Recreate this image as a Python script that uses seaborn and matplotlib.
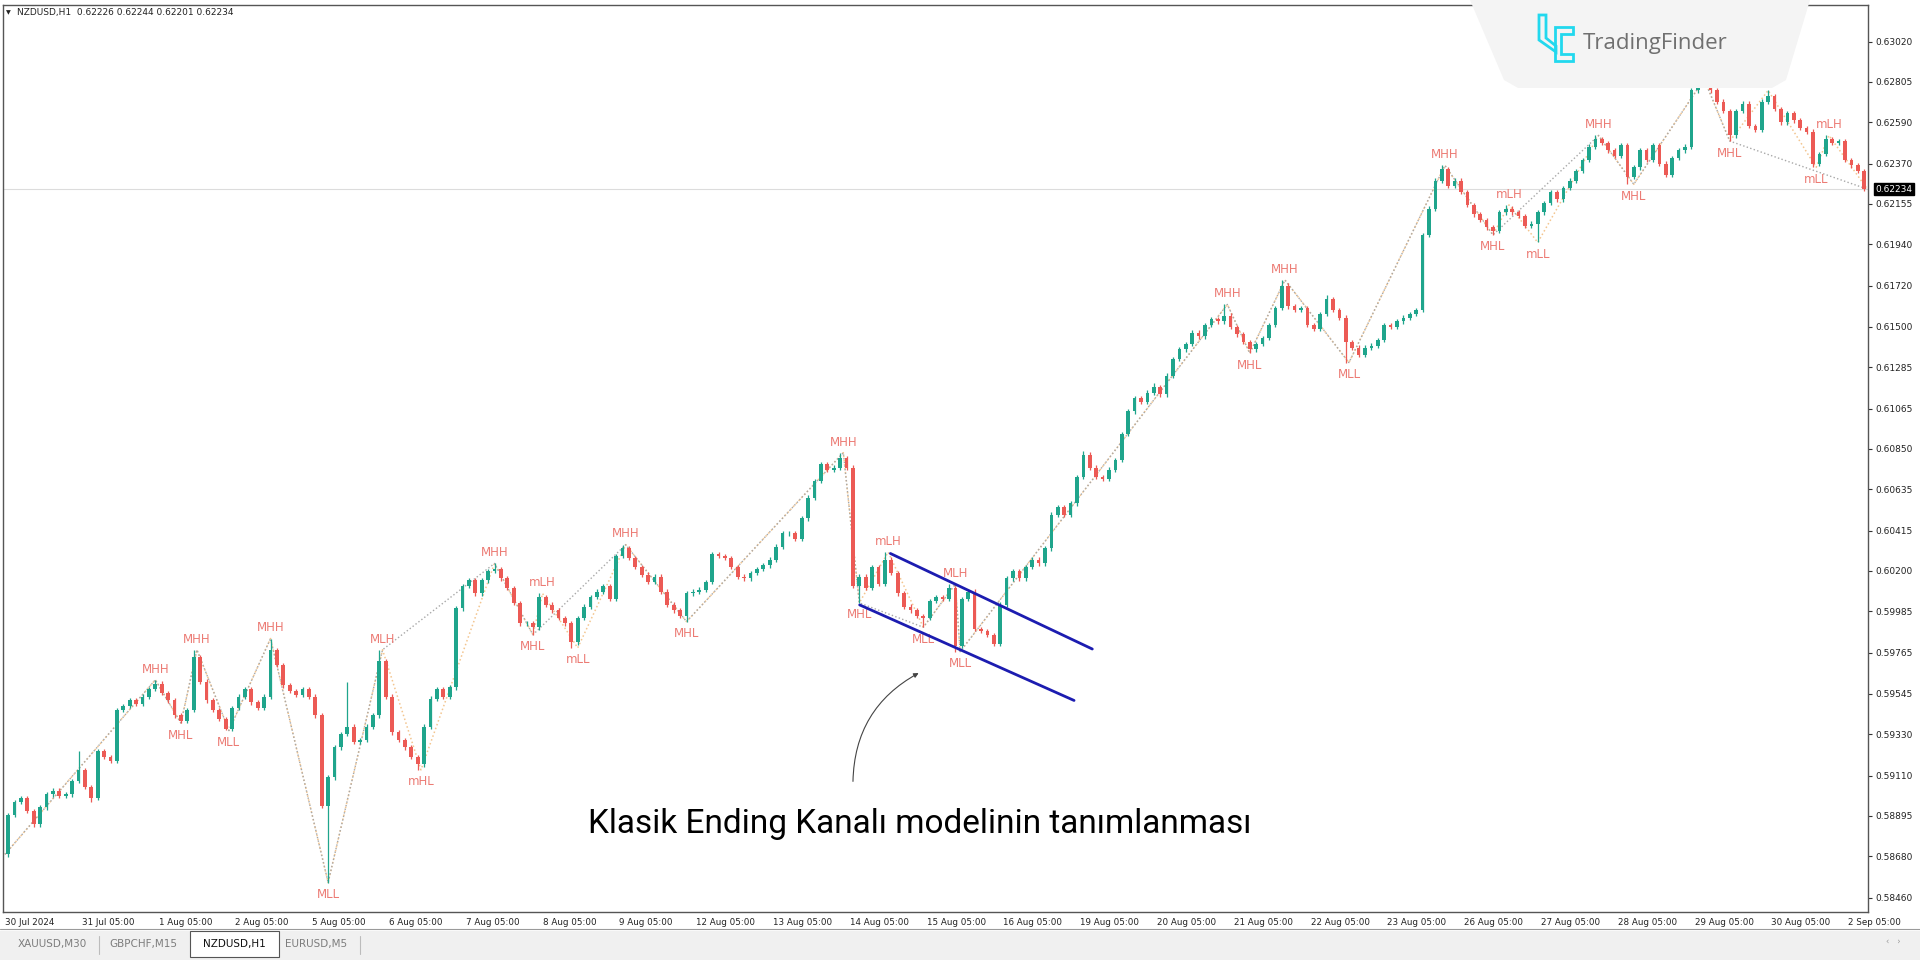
import matplotlib
matplotlib.use("Agg")
import matplotlib.pyplot as plt
import matplotlib.transforms as mtransforms
from matplotlib.patches import Polygon, Rectangle
import numpy as np
import pandas as pd
import seaborn as sns

sns.set_style("white")
plt.rcParams['font.family'] = ['DejaVu Sans']

# NZDUSD, 2-hour steps (prices in points, 1e-5)
open_first = 58690
closes = [
    58900, 58970, 58990, 58920, 58850, 58940, 59010, 59030, 59000, 59010, 59080, 59140,
    59050, 58990, 59240, 59210, 59190, 59460, 59480, 59510, 59490, 59530, 59570, 59600,
    59550, 59510, 59430, 59400, 59460, 59740, 59610, 59510, 59460, 59410, 59360, 59470,
    59530, 59570, 59500, 59470, 59530, 59780, 59700, 59590, 59560, 59540, 59570, 59530,
    59430, 58950, 59100, 59260, 59330, 59370, 59290, 59300, 59370, 59430, 59720, 59530,
    59340, 59300, 59260, 59210, 59170, 59370, 59520, 59570, 59530, 59580, 60000, 60120,
    60150, 60080, 60150, 60200, 60210, 60160, 60110, 60030, 59920, 59920, 59900, 60060,
    60020, 59990, 59950, 59920, 59820, 59950, 60010, 60060, 60090, 60120, 60050, 60280,
    60320, 60270, 60220, 60180, 60140, 60170, 60090, 60020, 59990, 59960, 60080, 60090,
    60100, 60140, 60290, 60280, 60270, 60220, 60170, 60160, 60190, 60210, 60230, 60260,
    60330, 60400, 60400, 60370, 60480, 60590, 60680, 60770, 60740, 60750, 60800, 60750,
    60120, 60170, 60110, 60220, 60130, 60260, 60190, 60080, 60010, 59990, 59960, 59950,
    60040, 60060, 60050, 60110, 59800, 60050, 60090, 59890, 59880, 59860, 59810, 60020,
    60160, 60200, 60160, 60220, 60260, 60240, 60320, 60500, 60540, 60500, 60560, 60700,
    60820, 60750, 60700, 60690, 60740, 60790, 60930, 61050, 61120, 61100, 61150, 61180,
    61140, 61240, 61330, 61380, 61410, 61470, 61450, 61510, 61540, 61530, 61560, 61500,
    61460, 61420, 61380, 61410, 61440, 61510, 61600, 61720, 61610, 61590, 61600, 61510,
    61490, 61570, 61650, 61590, 61550, 61420, 61390, 61350, 61390, 61400, 61430, 61510,
    61500, 61530, 61550, 61570, 61590, 61990, 62130, 62280, 62340, 62250, 62280, 62220,
    62150, 62100, 62070, 62030, 62010, 62110, 62130, 62110, 62090, 62040, 62050, 62110,
    62160, 62220, 62180, 62240, 62280, 62330, 62390, 62460, 62500, 62480, 62440, 62410,
    62470, 62300, 62350, 62440, 62390, 62470, 62370, 62310, 62400, 62440, 62460, 62760,
    62790, 62790, 62760, 62700, 62650, 62520, 62650, 62690, 62570, 62550, 62700, 62730,
    62660, 62590, 62640, 62600, 62560, 62540, 62370, 62420, 62500, 62480, 62490, 62390,
    62360, 62330, 62234,
]
# bars with long wicks (bar index -> extreme)
wick_high = {11: 59240, 23: 59620, 29: 59780, 41: 59840, 53: 59610, 58: 59780, 76: 60240,
             83: 60080, 96: 60340, 130: 60830, 137: 60300, 147: 60130, 168: 60840,
             179: 61200, 190: 61620, 199: 61750, 206: 61670, 224: 62360, 234: 62150,
             248: 62520, 264: 62820, 275: 62760, 284: 62520}
wick_low = {13: 58970, 27: 59390, 34: 59350, 50: 58540, 64: 59140, 82: 59860, 88: 59790,
            106: 59930, 133: 60030, 143: 59900, 148: 59770, 194: 61360, 209: 61310,
            232: 61990, 239: 61950, 253: 62260, 269: 62490, 282: 62350}

# swing labels (hour index, price, text)
piv_hour = [47, 55, 60, 70, 83, 101, 118, 130, 153, 165, 168, 179, 194, 213, 262, 267,
            276, 287, 297, 298.5, 382, 389, 400, 420, 450, 465, 470, 479, 498, 509, 531,
            539, 551, 566, 570]
piv_price = [59620, 59390, 59780, 59350, 59840, 58540, 59780, 59140, 60240, 59860, 60080,
             59790, 60340, 59930, 60830, 60030, 60300, 59900, 60130, 59770, 61620, 61360,
             61750, 61310, 62360, 61990, 62150, 61950, 62520, 62260, 62820, 62490, 62760,
             62350, 62520]
piv_text = ['MHH', 'MHL', 'MHH', 'MLL', 'MHH', 'MLL', 'MLH', 'mHL', 'MHH', 'MHL', 'mLH',
            'mLL', 'MHH', 'MHL', 'MHH', 'MHL', 'mLH', 'MLL', 'MLH', 'MLL', 'MHH', 'MHL',
            'MHH', 'MLL', 'MHH', 'MHL', 'mLH', 'mLL', 'MHH', 'MHL', 'MHH', 'MHL', 'mLH',
            'mLL', 'mLH']

price_ticks = [0.63020, 0.62805, 0.62590, 0.62370, 0.62155, 0.61940, 0.61720, 0.61500,
               0.61285, 0.61065, 0.60850, 0.60635, 0.60415, 0.60200, 0.59985, 0.59765,
               0.59545, 0.59330, 0.59110, 0.58895, 0.58680, 0.58460]
day_labels = ['30 Jul 2024', '31 Jul 05:00', '1 Aug 05:00', '2 Aug 05:00', '5 Aug 05:00',
              '6 Aug 05:00', '7 Aug 05:00', '8 Aug 05:00', '9 Aug 05:00', '12 Aug 05:00',
              '13 Aug 05:00', '14 Aug 05:00', '15 Aug 05:00', '16 Aug 05:00', '19 Aug 05:00',
              '20 Aug 05:00', '21 Aug 05:00', '22 Aug 05:00', '23 Aug 05:00', '26 Aug 05:00',
              '27 Aug 05:00', '28 Aug 05:00', '29 Aug 05:00', '30 Aug 05:00', '2 Sep 05:00']
chan_up_x, chan_up_y = [276.7, 339.8], [0.60293, 0.59784]
chan_lo_x, chan_lo_y = [267.1, 334.1], [0.60019, 0.59510]
last_price = 0.62234
tabs = ['XAUUSD,M30', 'GBPCHF,M15', 'NZDUSD,H1', 'EURUSD,M5']
caption = "Klasik Ending Kanalı modelinin tanımlanması"

# build OHLC frame
df = pd.DataFrame({'close': closes})
df['open'] = df['close'].shift(1).fillna(open_first)
df['x'] = np.arange(len(df)) * 2 + 1
df['high'] = df[['open', 'close']].max(axis=1) + 12
df['low'] = df[['open', 'close']].min(axis=1) - 12
for k, v in wick_high.items():
    df.loc[k, 'high'] = v
for k, v in wick_low.items():
    df.loc[k, 'low'] = v
for c in ['open', 'close', 'high', 'low']:
    df[c] = df[c] / 1e5
bull, bear = '#1fa58c', '#ec5a55'
df['color'] = np.where(df['close'] >= df['open'], bull, bear)

fig = plt.figure(figsize=(19.2, 9.6), dpi=100)
ax = fig.add_axes([3 / 1920, 48 / 960, 1865 / 1920, 907 / 960])
ax.set_xlim(-0.6, 582.2)
ax.set_ylim(0.58383, 0.63215)

ax.axhline(last_price, color='#dcdcdc', lw=0.8, zorder=0)

# zigzag guides
zz = pd.DataFrame({'h': [0] + piv_hour + [582],
                   'p': [open_first / 1e5] + [p / 1e5 for p in piv_price] + [last_price]})
sns.lineplot(data=zz, x='h', y='p', ax=ax, sort=False, estimator=None,
             color='#f3c58f', lw=1.1, linestyle=':', zorder=1)
major = zz[[True] + [t.startswith('M') for t in piv_text] + [True]]
sns.lineplot(data=major, x='h', y='p', ax=ax, sort=False, estimator=None,
             color='#a8a8a8', lw=1.0, linestyle=':', zorder=1)

# candles
ax.vlines(df['x'], df['low'], df['high'], colors=df['color'], lw=0.9, zorder=2)
body_lo = df[['open', 'close']].min(axis=1)
body_h = (df['close'] - df['open']).abs().clip(lower=0.00003)
ax.bar(df['x'], body_h, bottom=body_lo, width=1.15, color=df['color'], lw=0, zorder=3)

# swing labels
for h, p, t in zip(piv_hour, piv_price, piv_text):
    top = t.endswith('H')
    ax.annotate(t, (h, p / 1e5), xytext=(0, 3 if top else -4), textcoords='offset points',
                ha='center', va='bottom' if top else 'top', color='#ec7b74', fontsize=8.5,
                zorder=4)

# ending channel
sns.lineplot(x=chan_up_x, y=chan_up_y, ax=ax, color='#1c1cb0', lw=2.0, zorder=5)
sns.lineplot(x=chan_lo_x, y=chan_lo_y, ax=ax, color='#1c1cb0', lw=2.0, zorder=5)

ax.annotate('', xy=(286.3, 0.59663), xytext=(265.0, 0.59064),
            arrowprops=dict(arrowstyle='-|>', color='#444444', lw=0.8,
                            connectionstyle='arc3,rad=-0.3', mutation_scale=7))

# axes styling
ax.set_xlabel('')
ax.set_ylabel('')
ax.yaxis.tick_right()
ax.set_yticks(price_ticks)
ax.set_yticklabels([f"{v:.5f}" for v in price_ticks])
ax.set_xticks([24 * d for d in range(len(day_labels))])
ax.set_xticklabels(day_labels)
for lab in ax.get_xticklabels():
    lab.set_ha('left')
ax.tick_params(axis='y', direction='out', length=3, labelsize=6.5, pad=2,
               colors='#333333', labelcolor='#222222')
ax.tick_params(axis='x', direction='inout', length=5, labelsize=6.3, pad=2,
               colors='#333333', labelcolor='#222222')
for s in ax.spines.values():
    s.set_color('#555555')
    s.set_linewidth(1.0)

trans = mtransforms.blended_transform_factory(ax.transAxes, ax.transData)
ax.text(1.004, last_price, "0.62234", transform=trans, color='white', fontsize=6.5,
        va='center', ha='left', zorder=6,
        bbox=dict(boxstyle='square,pad=0.15', fc='black', ec='black'))

# overlay for window chrome, logo and caption
deco = fig.add_axes([0, 0, 1, 1], zorder=5)
deco.set_xlim(0, 1920)
deco.set_ylim(960, 0)
deco.axis('off')
deco.patch.set_alpha(0)

deco.text(6, 13, "▼", fontsize=4.5, va='center', ha='left', color='#222222')
deco.text(17, 13, "NZDUSD,H1  0.62226 0.62244 0.62201 0.62234", fontsize=6.5,
          va='center', ha='left', color='#222222')

deco.add_patch(Polygon([(1470, 0), (1810, 0), (1786, 80), (1772, 88), (1518, 88), (1504, 80)],
                       closed=True, fc='#f4f4f4', ec='none'))
cyan = '#22d8ee'
deco.add_patch(Polygon([(1539, 15), (1546, 15), (1546, 38), (1556, 46), (1556, 52), (1539, 40)],
                       closed=True, fc='none', ec=cyan, lw=2))
deco.add_patch(Polygon([(1555, 27), (1573, 27), (1573, 34), (1561, 34), (1561, 54), (1573, 54),
                        (1573, 61), (1555, 61)], closed=True, fc='none', ec=cyan, lw=2))
deco.text(1583, 43, "TradingFinder", fontsize=16, family='Open Sans', color='#707070',
          va='center', ha='left')

deco.text(920, 824, caption, fontsize=24, family='Roboto', ha='center', va='center',
          color='black')

# bottom tab bar
deco.plot([0, 1920], [929, 929], color='#9a9a9a', lw=0.8)
deco.add_patch(Rectangle((0, 931), 1920, 29, fc='#f0f0f0', ec='none'))
deco.add_patch(Rectangle((190, 931), 89, 26, fc='white', ec='#555555', lw=0.8))
for name, cx in zip(tabs, [52, 143, 234, 316]):
    deco.text(cx, 944, name, fontsize=7.5, ha='center', va='center',
              color='#111111' if name == 'NZDUSD,H1' else '#7d7d7d')
for sx in [99, 360]:
    deco.plot([sx, sx], [936, 954], color='#bcbcbc', lw=0.8)
deco.text(1893, 941, "‹   ›", fontsize=6, color='#999999', ha='center', va='center')

fig.savefig("out.png", dpi=100)
